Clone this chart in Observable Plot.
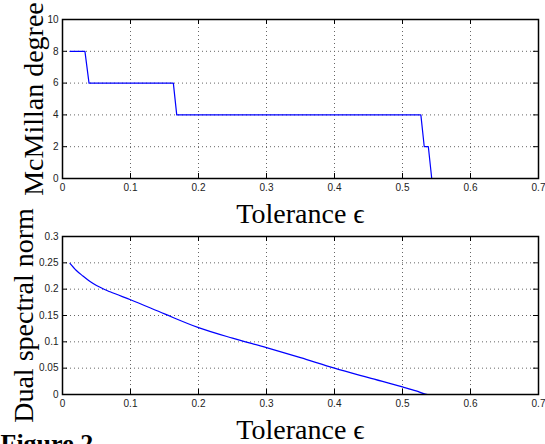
<!DOCTYPE html>
<html><head><meta charset="utf-8">
<script src="https://cdn.jsdelivr.net/npm/d3@7"></script>
<script src="https://cdn.jsdelivr.net/npm/@observablehq/plot@0.6"></script>
<style>
body{margin:0;background:#fff}
#chart svg{display:block}
</style>
</head><body><div id="chart"></div>
<script>
// ---- data ----
const xTicks = [0, 0.1, 0.2, 0.3, 0.4, 0.5, 0.6, 0.7];
const xTickLabels = ["0", "0.1", "0.2", "0.3", "0.4", "0.5", "0.6", "0.7"];
const degreeTicks = [0, 2, 4, 6, 8, 10];
const degreeTickLabels = ["0", "2", "4", "6", "8", "10"];
const normTicks = [0, 0.05, 0.1, 0.15, 0.2, 0.25, 0.3];
const normTickLabels = ["0", "0.05", "0.1", "0.15", "0.2", "0.25", "0.3"];

const degreeEps = [0.011, 0.033, 0.039, 0.163, 0.168, 0.527, 0.532, 0.538, 0.543, 0.558];
const degreeVal = [8, 8, 6, 6, 4, 4, 2, 2, 0, 0];

const normEps = [0.011, 0.02, 0.03, 0.04, 0.05, 0.07, 0.1, 0.15, 0.2, 0.25, 0.3, 0.35, 0.4, 0.45, 0.5, 0.52, 0.537, 0.559];
const normVal = [0.249, 0.236, 0.225, 0.215, 0.207, 0.195, 0.18, 0.153, 0.127, 0.107, 0.089, 0.07, 0.05, 0.032, 0.0144, 0.007, 0, 0];

const xLabel = "Tolerance \u03F5";
const yLabelTop = "McMillan degree";
const yLabelBottom = "Dual spectral norm";
const captionText = "Figure 2";

// ---- layout ----
const W = 545, ML = 62, MR = 7;
const PW = W - ML - MR;
const serif = "'Liberation Serif', 'DejaVu Serif', serif";
const sans = "'Liberation Sans', Arial, sans-serif";
const gridStyle = {stroke: "#666", strokeOpacity: 1, strokeDasharray: "1,3", strokeWidth: 1};

function panel({eps, val, curve, yTicks, yTickLabels, yDomain, height, mt, mb, yLabel, yLabelDx, xLabelDy, caption}) {
  const PH = height - mt - mb;
  const data = eps.map((e, i) => ({e, v: val[i]}));
  const marks = [
    Plot.gridX(xTicks.slice(1, -1), gridStyle),
    Plot.gridY(yTicks.slice(1, -1), gridStyle),
    Plot.tickX(xTicks, {x: d => d, insetTop: PH - 5, stroke: "#000", strokeWidth: 1}),
    Plot.tickX(xTicks, {x: d => d, insetBottom: PH - 5, stroke: "#000", strokeWidth: 1}),
    Plot.tickY(yTicks, {y: d => d, insetRight: PW - 5, stroke: "#000", strokeWidth: 1}),
    Plot.tickY(yTicks, {y: d => d, insetLeft: PW - 5, stroke: "#000", strokeWidth: 1}),
    Plot.axisX(xTicks, {anchor: "bottom", label: null, tickSize: 0, tickPadding: 5, tickFormat: d => xTickLabels[xTicks.indexOf(d)], fontSize: 10, fontFamily: sans, fill: "#222"}),
    Plot.axisY(yTicks, {anchor: "left", label: null, tickSize: 0, tickPadding: 4, tickFormat: d => yTickLabels[yTicks.indexOf(d)], fontSize: 10, fontFamily: sans, fill: "#222"}),
    Plot.line(data, {x: "e", y: "v", curve, stroke: "#0000ff", strokeWidth: 1.2}),
    Plot.frame({stroke: "#000", strokeWidth: 1.5}),
    Plot.text([xLabel], {frameAnchor: "bottom", textAnchor: "middle", lineAnchor: "bottom", dy: xLabelDy, fontSize: 28, fontFamily: serif, fill: "#000"}),
    Plot.text([yLabel], {frameAnchor: "left", textAnchor: "middle", lineAnchor: "bottom", rotate: -90, dx: yLabelDx, fontSize: 28, fontFamily: serif, fill: "#000"})
  ];
  if (caption) {
    marks.push(Plot.text([caption], {frameAnchor: "bottom-left", textAnchor: "start", lineAnchor: "bottom", dx: -ML, dy: 57, fontSize: 26, fontWeight: "bold", fontFamily: serif, fill: "#000"}));
  }
  return Plot.plot({
    width: W, height,
    marginLeft: ML, marginRight: MR, marginTop: mt, marginBottom: mb,
    x: {domain: [0, 0.7], axis: null, label: null},
    y: {domain: yDomain, axis: null, label: null},
    style: {background: "#fff", overflow: "visible"},
    marks
  });
}

const topPanel = panel({eps: degreeEps, val: degreeVal, curve: "linear", yTicks: degreeTicks, yTickLabels: degreeTickLabels, yDomain: [0, 10],
  height: 222, mt: 19, mb: 44, yLabel: yLabelTop, yLabelDx: -20, xLabelDy: 44});
const bottomPanel = panel({eps: normEps, val: normVal, curve: "monotone-x", yTicks: normTicks, yTickLabels: normTickLabels, yDomain: [0, 0.3],
  height: 222, mt: 14, mb: 50, yLabel: yLabelBottom, yLabelDx: -30, xLabelDy: 44, caption: captionText});
document.getElementById("chart").append(topPanel, bottomPanel);
</script>
</body></html>
